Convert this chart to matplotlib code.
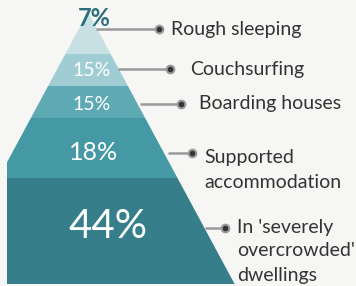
import matplotlib.pyplot as plt
from matplotlib.patches import Polygon

values = [7, 15, 15, 18, 44]
labels = ["Rough sleeping", "Couchsurfing", "Boarding houses",
          "Supported\naccommodation", "In 'severely\novercrowded'\ndwellings"]
colors = ["#c6e0e4", "#9fcdd3", "#5eaab4", "#4499a4", "#367f8a"]

# band edges in pixel coords (top of pyramid is the apex)
edges = [12, 54, 86, 118, 178, 284]
cx, apex, slope, left_clip = 88, 12, 0.539, 7

plt.rcParams['font.family'] = ['Lato', 'DejaVu Sans']
fig = plt.figure(figsize=(3.56, 2.86), dpi=100)
fig.patch.set_facecolor("#f6f6f4")
ax = fig.add_axes([0, 0, 1, 1])
ax.set_xlim(0, 356)
ax.set_ylim(286, 0)
ax.axis("off")


def half(y):
    return (y - apex) * slope


for i, v in enumerate(values):
    y0, y1 = edges[i], edges[i + 1]
    pts = [(max(cx - half(y0), left_clip), y0), (cx + half(y0), y0),
           (cx + half(y1), y1), (max(cx - half(y1), left_clip), y1)]
    if cx - half(y1) < left_clip < cx - half(y0):
        yc = apex + (cx - left_clip) / slope
        pts = [(cx - half(y0), y0), (cx + half(y0), y0), (cx + half(y1), y1),
               (left_clip, y1), (left_clip, yc)]
    elif cx - half(y0) < left_clip:
        pts = [(left_clip, y0), (cx + half(y0), y0), (cx + half(y1), y1), (left_clip, y1)]
    ax.add_patch(Polygon(pts, closed=True, facecolor=colors[i], edgecolor="none"))

# percentage labels
pct_pos = [(94, 19), (92, 70), (92, 104), (94, 153), (108, 226)]
pct_size = [17, 14, 14, 18, 29]
for i, v in enumerate(values):
    col = "#2b6f7a" if i == 0 else "white"
    wt = "bold" if i == 0 else "normal"
    ax.text(pct_pos[i][0], pct_pos[i][1], f"{v}%", ha="center", va="center",
            fontsize=pct_size[i], color=col, fontweight=wt)

# connectors and labels
line_y = [29, 69, 104, 153, 228]
line_x0 = [96, 118, 140, 168, 205]
dot_x = [159, 170, 181, 192, 225]
text_x = [171, 190, 199, 204, 237]
text_y = [29, 69, 104, 170, 251]
for i, lab in enumerate(labels):
    ax.plot([line_x0[i], dot_x[i]], [line_y[i], line_y[i]], color="#9a9a9a", lw=1.8,
            solid_capstyle="butt", zorder=3)
    ax.plot(dot_x[i], line_y[i], "o", ms=6, color="#9a9a9a", zorder=4)
    ax.plot(dot_x[i], line_y[i], "o", ms=3, color="#333333", zorder=5)
    ax.text(text_x[i], text_y[i], lab, ha="left", va="center", fontsize=14,
            color="#333333", linespacing=1.5)

fig.savefig("out.png", dpi=100, facecolor=fig.get_facecolor())
